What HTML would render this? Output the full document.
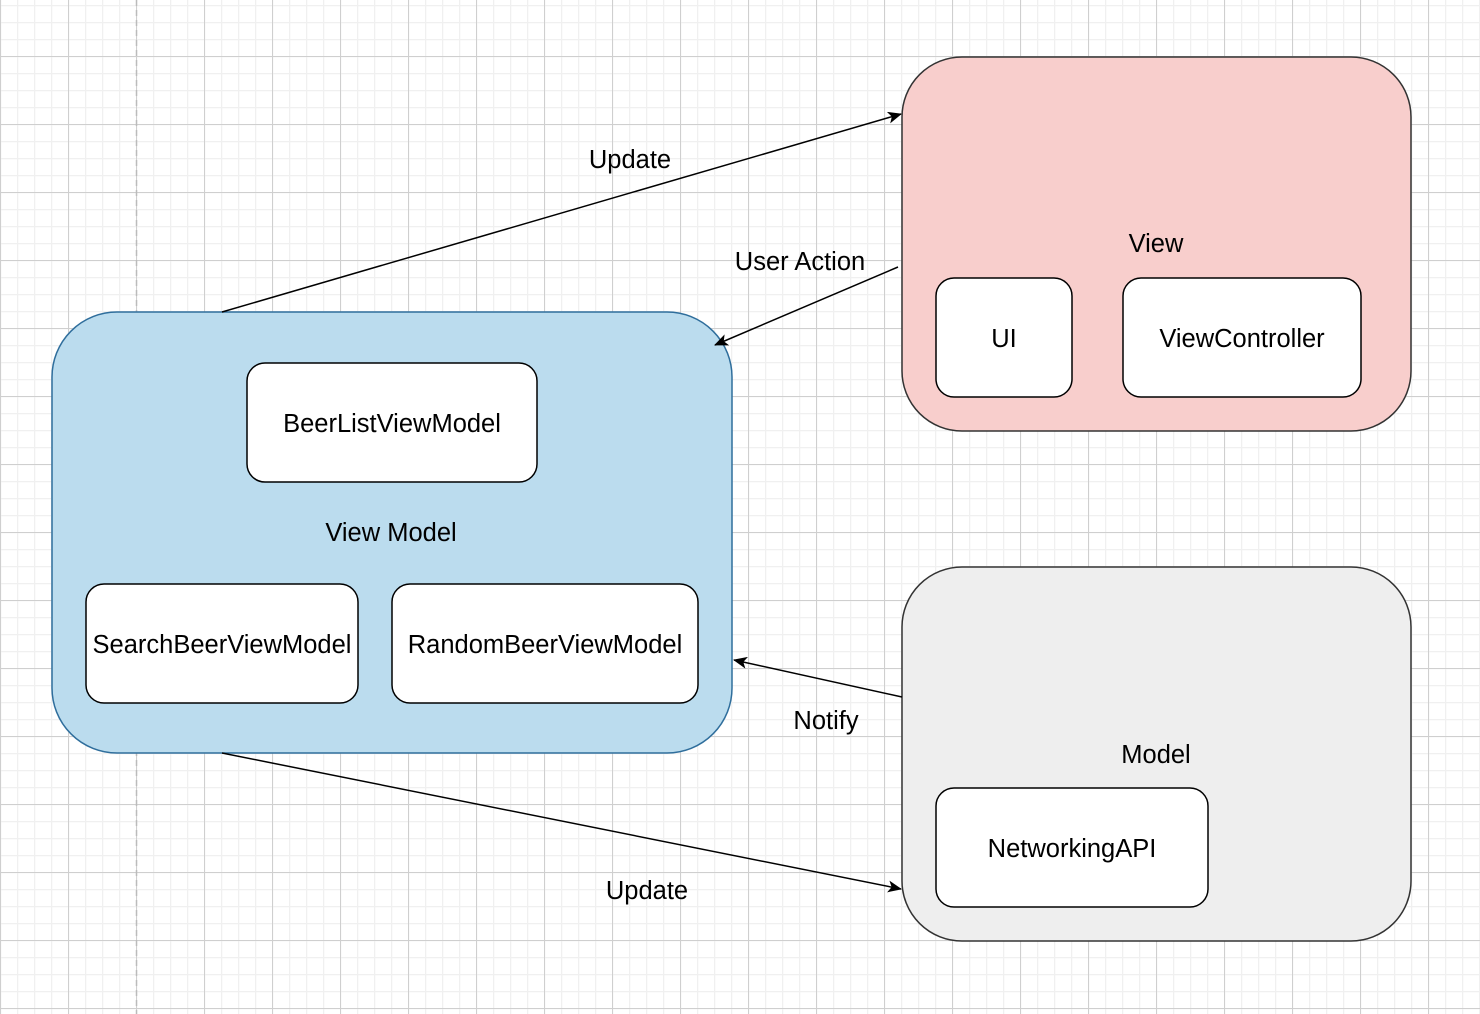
<!DOCTYPE html>
<html><head><meta charset="utf-8"><style>
html,body{margin:0;padding:0;background:#fff;}
svg{display:block;}
text{font-family:"Liberation Sans",Helvetica,Arial,sans-serif;font-size:25.5px;fill:#000;}
</style></head><body>
<svg width="1480" height="1014" viewBox="0 0 1480 1014" xmlns="http://www.w3.org/2000/svg">
<defs>
<pattern id="minor" x="0" y="5" width="17" height="17" patternUnits="userSpaceOnUse">
<path d="M0.5 0V17M0 0.5H17" stroke="#f0f0f0" stroke-width="1.5" fill="none"/>
</pattern>
<pattern id="major" x="0" y="56" width="68" height="68" patternUnits="userSpaceOnUse">
<path d="M0.5 0V68M0 0.5H68" stroke="#cfcfcf" stroke-width="1" fill="none"/>
</pattern>
<marker id="ah" markerWidth="14" markerHeight="12" refX="13" refY="6" orient="auto" markerUnits="userSpaceOnUse">
<path d="M0,0 L14,6 L0,12 L3.5,6 Z" fill="#000"/>
</marker>
</defs>
<rect width="1480" height="1014" fill="url(#minor)"/>
<rect width="1480" height="1014" fill="url(#major)"/>
<line x1="136.5" y1="0" x2="136.5" y2="1014" stroke="#bbb" stroke-width="1.5" stroke-dasharray="6,4"/>

<rect x="902" y="57" width="509" height="374" rx="60" fill="#f8cecc" stroke="#333" stroke-width="1.5"/>
<text x="1156" y="252" text-anchor="middle">View</text>
<rect x="936" y="278" width="136" height="119" rx="18" fill="#fff" stroke="#000" stroke-width="1.5"/>
<text x="1004" y="347" text-anchor="middle">UI</text>
<rect x="1123" y="278" width="238" height="119" rx="18" fill="#fff" stroke="#000" stroke-width="1.5"/>
<text x="1242" y="347" text-anchor="middle">ViewController</text>

<rect x="902" y="567" width="509" height="374" rx="60" fill="#eeeeee" stroke="#333" stroke-width="1.5"/>
<text x="1156" y="763" text-anchor="middle">Model</text>
<rect x="936" y="788" width="272" height="119" rx="18" fill="#fff" stroke="#000" stroke-width="1.5"/>
<text x="1072" y="857" text-anchor="middle">NetworkingAPI</text>

<rect x="52" y="312" width="680" height="441" rx="65" fill="#bbdcee" stroke="#2f6e9c" stroke-width="1.5"/>
<text x="391" y="541" text-anchor="middle">View Model</text>
<rect x="247" y="363" width="290" height="119" rx="18" fill="#fff" stroke="#000" stroke-width="1.5"/>
<text x="392" y="432" text-anchor="middle">BeerListViewModel</text>
<rect x="86" y="584" width="272" height="119" rx="18" fill="#fff" stroke="#000" stroke-width="1.5"/>
<text x="222" y="653" text-anchor="middle">SearchBeerViewModel</text>
<rect x="392" y="584" width="306" height="119" rx="18" fill="#fff" stroke="#000" stroke-width="1.5"/>
<text x="545" y="653" text-anchor="middle">RandomBeerViewModel</text>

<line x1="222" y1="312" x2="901" y2="114" stroke="#000" stroke-width="1.5" marker-end="url(#ah)"/>
<text x="630" y="168" text-anchor="middle">Update</text>
<line x1="898" y1="267" x2="715" y2="345" stroke="#000" stroke-width="1.5" marker-end="url(#ah)"/>
<text x="800" y="270" text-anchor="middle">User Action</text>
<line x1="902" y1="697" x2="734" y2="660" stroke="#000" stroke-width="1.5" marker-end="url(#ah)"/>
<text x="826" y="729" text-anchor="middle">Notify</text>
<line x1="222" y1="753" x2="901" y2="889" stroke="#000" stroke-width="1.5" marker-end="url(#ah)"/>
<text x="647" y="899" text-anchor="middle">Update</text>
</svg>
</body></html>
